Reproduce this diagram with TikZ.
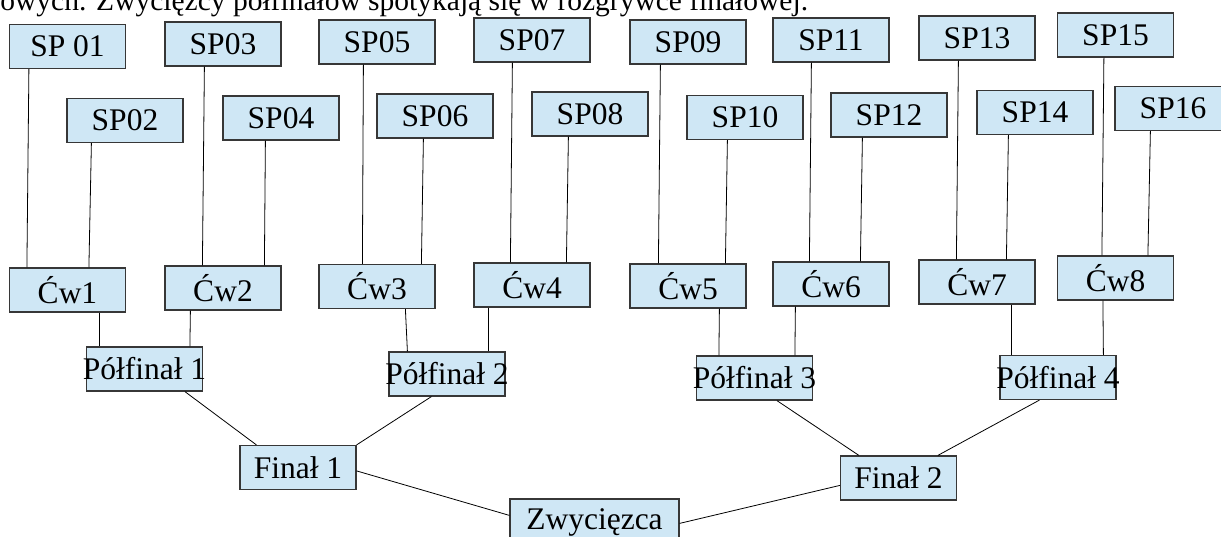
\documentclass[tikz,border=0pt]{standalone}
\usepackage{fontspec}
\setmainfont{Liberation Serif}
\definecolor{boxblue}{RGB}{207,231,245}
\definecolor{boxedge}{RGB}{55,55,55}
\begin{document}
\begin{tikzpicture}[x=1pt,y=-1pt,
  tbox/.style={draw=boxedge, line width=1.2pt, fill=boxblue, minimum width=116pt, minimum height=44pt, inner sep=0pt, font=\fontsize{31.5}{32}\selectfont},
  conn/.style={draw=black, line width=0.8pt}]
\useasboundingbox (0,0) rectangle (1221,537);
\node[anchor=base west, inner sep=0pt, font=\fontsize{29.5}{30}\selectfont] (intro) at (-8,11) {łowych. Zwycięzcy półfinałów spotykają się w rozgrywce finałowej.};
% first round
\node[tbox] (sp01) at (67.5,46.5) {SP 01};
\node[tbox] (sp02) at (125,120.5) {SP02};
\node[tbox] (sp03) at (223,44) {SP03};
\node[tbox] (sp04) at (281,118) {SP04};
\node[tbox] (sp05) at (377,42) {SP05};
\node[tbox] (sp06) at (435,116) {SP06};
\node[tbox] (sp07) at (532,40) {SP07};
\node[tbox] (sp08) at (590,114) {SP08};
\node[tbox] (sp09) at (688,42) {SP09};
\node[tbox] (sp10) at (745,117.5) {SP10};
\node[tbox] (sp11) at (831,40) {SP11};
\node[tbox] (sp12) at (889,115) {SP12};
\node[tbox] (sp13) at (977,38) {SP13};
\node[tbox] (sp14) at (1035,112.5) {SP14};
\node[tbox] (sp15) at (1115.5,35) {SP15};
\node[tbox] (sp16) at (1173,108.5) {SP16};
% quarter finals
\node[tbox] (cw1) at (67.5,290) {Ćw1};
\node[tbox] (cw2) at (223,288) {Ćw2};
\node[tbox] (cw3) at (377,286.5) {Ćw3};
\node[tbox] (cw4) at (532,285) {Ćw4};
\node[tbox] (cw5) at (688,286) {Ćw5};
\node[tbox] (cw6) at (831,284) {Ćw6};
\node[tbox] (cw7) at (977,282) {Ćw7};
\node[tbox] (cw8) at (1115.5,278) {Ćw8};
% semi finals
\node[tbox] (pf1) at (144.5,369) {\makebox[116pt][c]{Półfinał 1}};
\node[tbox] (pf2) at (447,374) {\makebox[116pt][c]{Półfinał 2}};
\node[tbox] (pf3) at (754.5,378) {\makebox[116pt][c]{Półfinał 3}};
\node[tbox] (pf4) at (1058,377.5) {\makebox[116pt][c]{Półfinał 4}};
% finals
\node[tbox] (f1) at (298,467.5) {Finał 1};
\node[tbox] (f2) at (898.5,478) {Finał 2};
\node[tbox, minimum width=169pt, minimum height=46pt] (win) at (594.5,522) {Zwycięzca};
% connectors round 1
\draw[conn] ([xshift=20pt]sp01.south west) -- ([xshift=18pt]cw1.north west);
\draw[conn] ([xshift=25pt]sp02.south west) -- ([xshift=80pt]cw1.north west);
\draw[conn] ([xshift=40pt]sp03.south west) -- ([xshift=38pt]cw2.north west);
\draw[conn] ([xshift=43pt]sp04.south west) -- ([xshift=100pt]cw2.north west);
\draw[conn] ([xshift=45pt]sp05.south west) -- ([xshift=44pt]cw3.north west);
\draw[conn] ([xshift=47pt]sp06.south west) -- ([xshift=103pt]cw3.north west);
\draw[conn] ([xshift=39pt]sp07.south west) -- ([xshift=37pt]cw4.north west);
\draw[conn] ([xshift=37pt]sp08.south west) -- ([xshift=93pt]cw4.north west);
\draw[conn] ([xshift=31pt]sp09.south west) -- ([xshift=29pt]cw5.north west);
\draw[conn] ([xshift=41pt]sp10.south west) -- ([xshift=96pt]cw5.north west);
\draw[conn] ([xshift=39pt]sp11.south west) -- ([xshift=37pt]cw6.north west);
\draw[conn] ([xshift=32pt]sp12.south west) -- ([xshift=88pt]cw6.north west);
\draw[conn] ([xshift=40pt]sp13.south west) -- ([xshift=38pt]cw7.north west);
\draw[conn] ([xshift=32pt]sp14.south west) -- ([xshift=88pt]cw7.north west);
\draw[conn] ([xshift=47pt]sp15.south west) -- ([xshift=45pt]cw8.north west);
\draw[conn] ([xshift=36pt]sp16.south west) -- ([xshift=91pt]cw8.north west);
% connectors quarter -> semi
\draw[conn] ([xshift=90pt]cw1.south west) -- ([xshift=13pt]pf1.north west);
\draw[conn] ([xshift=26pt]cw2.south west) -- ([xshift=104pt]pf1.north west);
\draw[conn] ([xshift=87pt]cw3.south west) -- ([xshift=19pt]pf2.north west);
\draw[conn] ([xshift=15pt]cw4.south west) -- ([xshift=100pt]pf2.north west);
\draw[conn] ([xshift=90pt]cw5.south west) -- ([xshift=23pt]pf3.north west);
\draw[conn] ([xshift=23pt]cw6.south west) -- ([xshift=99pt]pf3.north west);
\draw[conn] ([xshift=93pt]cw7.south west) -- ([xshift=12pt]pf4.north west);
\draw[conn] ([xshift=46pt]cw8.south west) -- ([xshift=104pt]pf4.north west);
% semi -> final
\draw[conn] ([xshift=99pt]pf1.south west) -- ([xshift=17pt]f1.north west);
\draw[conn] ([xshift=43pt]pf2.south west) -- (f1.north east);
\draw[conn] ([xshift=81pt]pf3.south west) -- ([xshift=19pt]f2.north west);
\draw[conn] ([xshift=40pt]pf4.south west) -- ([xshift=98pt]f2.north west);
% final -> winner
\draw[conn] ([yshift=-26pt]f1.north east) -- ([yshift=-17pt]win.north west);
\draw[conn] ([yshift=-30pt]f2.north west) -- ([yshift=-25pt]win.north east);
\end{tikzpicture}
\end{document}
